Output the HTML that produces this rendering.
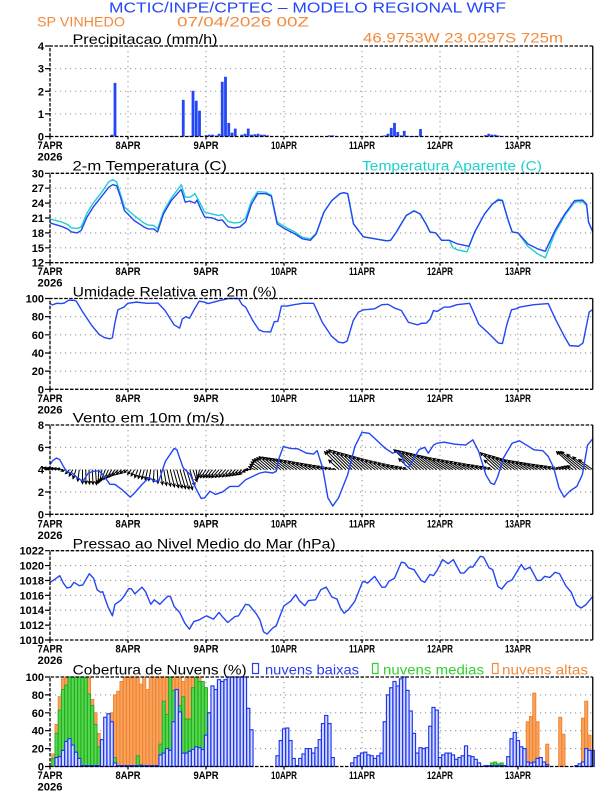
<!DOCTYPE html>
<html><head><meta charset="utf-8">
<style>
html,body{margin:0;padding:0;background:#fff;}
svg{display:block;}
text{font-family:"Liberation Sans",sans-serif;}
.tk{font-size:11px;font-weight:bold;fill:#000;text-anchor:end;}
.xl{font-size:11px;font-weight:bold;fill:#000;text-anchor:middle;}
.ti{font-size:14px;fill:#000;}
.g{stroke:#9a9a9a;stroke-width:1.1;stroke-dasharray:1.2 3.8;}
</style></head><body>
<svg id="s" width="612" height="792" viewBox="0 0 612 792" xmlns="http://www.w3.org/2000/svg">
<rect width="612" height="792" fill="#fff"/>
<g id="grid"></g>
<g id="data"></g>
<g id="frame"></g>

<!-- header -->
<text x="109" y="12.7" style="font-size:15px" fill="#2446f5" textLength="397" lengthAdjust="spacingAndGlyphs">MCTIC/INPE/CPTEC – MODELO REGIONAL WRF</text>
<text x="37" y="26.7" style="font-size:14px" fill="#f28a3c" textLength="88" lengthAdjust="spacingAndGlyphs">SP VINHEDO</text>
<text x="177" y="26.7" style="font-size:14px" fill="#f28a3c" textLength="132" lengthAdjust="spacingAndGlyphs">07/04/2026 00Z</text>
<text class="ti" x="72.5" y="44" textLength="145" lengthAdjust="spacingAndGlyphs">Precipitacao (mm/h)</text>
<text x="363" y="42.7" style="font-size:14px" fill="#f28a3c" textLength="200" lengthAdjust="spacingAndGlyphs">46.9753W 23.0297S 725m</text>

<text class="ti" x="72.5" y="170.7" textLength="154.5" lengthAdjust="spacingAndGlyphs">2-m Temperatura (C)</text>
<text x="362" y="170.7" style="font-size:14px" fill="#1fcfcf" textLength="180" lengthAdjust="spacingAndGlyphs">Temperatura Aparente (C)</text>
<text class="ti" x="72.7" y="296.7" textLength="204" lengthAdjust="spacingAndGlyphs">Umidade Relativa em 2m (%)</text>
<text class="ti" x="72.7" y="422.7" textLength="152" lengthAdjust="spacingAndGlyphs">Vento em 10m (m/s)</text>
<text class="ti" x="72.7" y="548.3" textLength="263" lengthAdjust="spacingAndGlyphs">Pressao ao Nivel Medio do Mar (hPa)</text>
<text class="ti" x="72.7" y="674.3" textLength="174" lengthAdjust="spacingAndGlyphs">Cobertura de Nuvens (%)</text>
<rect x="252.5" y="663.5" width="6" height="10" fill="none" stroke="#2a3cf0" stroke-width="1.2"/>
<text x="265" y="674.3" style="font-size:14px" fill="#2a3cf0" textLength="94" lengthAdjust="spacingAndGlyphs">nuvens baixas</text>
<rect x="372.5" y="663.5" width="5.5" height="10" fill="none" stroke="#2fd02f" stroke-width="1.2"/>
<text x="383" y="674.3" style="font-size:14px" fill="#2fd02f" textLength="101" lengthAdjust="spacingAndGlyphs">nuvens medias</text>
<rect x="492.5" y="663.5" width="5.5" height="10" fill="none" stroke="#f28a3c" stroke-width="1.2"/>
<text x="502" y="674.3" style="font-size:14px" fill="#f28a3c" textLength="86" lengthAdjust="spacingAndGlyphs">nuvens altas</text>

<!-- y tick labels -->
<text class="tk" x="44" y="140.5">0</text><text class="tk" x="44" y="117.9">1</text><text class="tk" x="44" y="95.3">2</text><text class="tk" x="44" y="72.6">3</text><text class="tk" x="44" y="50">4</text>
<text class="tk" x="44" y="266.7">12</text><text class="tk" x="44" y="251.8">15</text><text class="tk" x="44" y="236.9">18</text><text class="tk" x="44" y="222">21</text><text class="tk" x="44" y="207.1">24</text><text class="tk" x="44" y="192.2">27</text><text class="tk" x="44" y="177.3">30</text>
<text class="tk" x="44" y="393.3">0</text><text class="tk" x="44" y="375.1">20</text><text class="tk" x="44" y="357">40</text><text class="tk" x="44" y="338.8">60</text><text class="tk" x="44" y="320.7">80</text><text class="tk" x="44" y="302.5">100</text>
<text class="tk" x="44" y="518.3">0</text><text class="tk" x="44" y="496">2</text><text class="tk" x="44" y="473.7">4</text><text class="tk" x="44" y="451.3">6</text><text class="tk" x="44" y="429">8</text>
<text class="tk" x="44" y="644">1010</text><text class="tk" x="44" y="629.1">1012</text><text class="tk" x="44" y="614.2">1014</text><text class="tk" x="44" y="599.4">1016</text><text class="tk" x="44" y="584.5">1018</text><text class="tk" x="44" y="569.6">1020</text><text class="tk" x="44" y="554.7">1022</text>
<text class="tk" x="44" y="770.5">0</text><text class="tk" x="44" y="752.6">20</text><text class="tk" x="44" y="734.7">40</text><text class="tk" x="44" y="716.8">60</text><text class="tk" x="44" y="698.9">80</text><text class="tk" x="44" y="681">100</text>

<!-- x labels -->
<g>
<text class="xl" x="50" y="149" textLength="25" lengthAdjust="spacingAndGlyphs">7APR</text><text class="xl" x="50" y="160.5" textLength="25" lengthAdjust="spacingAndGlyphs">2026</text>
<text class="xl" x="128" y="149" textLength="25" lengthAdjust="spacingAndGlyphs">8APR</text><text class="xl" x="206" y="149" textLength="25" lengthAdjust="spacingAndGlyphs">9APR</text><text class="xl" x="284" y="149" textLength="26" lengthAdjust="spacingAndGlyphs">10APR</text><text class="xl" x="362" y="149" textLength="26" lengthAdjust="spacingAndGlyphs">11APR</text><text class="xl" x="440" y="149" textLength="26" lengthAdjust="spacingAndGlyphs">12APR</text><text class="xl" x="518" y="149" textLength="26" lengthAdjust="spacingAndGlyphs">13APR</text>

<text class="xl" x="50" y="275.2" textLength="25" lengthAdjust="spacingAndGlyphs">7APR</text><text class="xl" x="50" y="286.7" textLength="25" lengthAdjust="spacingAndGlyphs">2026</text>
<text class="xl" x="128" y="275.2" textLength="25" lengthAdjust="spacingAndGlyphs">8APR</text><text class="xl" x="206" y="275.2" textLength="25" lengthAdjust="spacingAndGlyphs">9APR</text><text class="xl" x="284" y="275.2" textLength="26" lengthAdjust="spacingAndGlyphs">10APR</text><text class="xl" x="362" y="275.2" textLength="26" lengthAdjust="spacingAndGlyphs">11APR</text><text class="xl" x="440" y="275.2" textLength="26" lengthAdjust="spacingAndGlyphs">12APR</text><text class="xl" x="518" y="275.2" textLength="26" lengthAdjust="spacingAndGlyphs">13APR</text>

<text class="xl" x="50" y="401.8" textLength="25" lengthAdjust="spacingAndGlyphs">7APR</text><text class="xl" x="50" y="413.3" textLength="25" lengthAdjust="spacingAndGlyphs">2026</text>
<text class="xl" x="128" y="401.8" textLength="25" lengthAdjust="spacingAndGlyphs">8APR</text><text class="xl" x="206" y="401.8" textLength="25" lengthAdjust="spacingAndGlyphs">9APR</text><text class="xl" x="284" y="401.8" textLength="26" lengthAdjust="spacingAndGlyphs">10APR</text><text class="xl" x="362" y="401.8" textLength="26" lengthAdjust="spacingAndGlyphs">11APR</text><text class="xl" x="440" y="401.8" textLength="26" lengthAdjust="spacingAndGlyphs">12APR</text><text class="xl" x="518" y="401.8" textLength="26" lengthAdjust="spacingAndGlyphs">13APR</text>

<text class="xl" x="50" y="527.5" textLength="25" lengthAdjust="spacingAndGlyphs">7APR</text><text class="xl" x="50" y="539" textLength="25" lengthAdjust="spacingAndGlyphs">2026</text>
<text class="xl" x="128" y="527.5" textLength="25" lengthAdjust="spacingAndGlyphs">8APR</text><text class="xl" x="206" y="527.5" textLength="25" lengthAdjust="spacingAndGlyphs">9APR</text><text class="xl" x="284" y="527.5" textLength="26" lengthAdjust="spacingAndGlyphs">10APR</text><text class="xl" x="362" y="527.5" textLength="26" lengthAdjust="spacingAndGlyphs">11APR</text><text class="xl" x="440" y="527.5" textLength="26" lengthAdjust="spacingAndGlyphs">12APR</text><text class="xl" x="518" y="527.5" textLength="26" lengthAdjust="spacingAndGlyphs">13APR</text>

<text class="xl" x="50" y="652.7" textLength="25" lengthAdjust="spacingAndGlyphs">7APR</text><text class="xl" x="50" y="664.2" textLength="25" lengthAdjust="spacingAndGlyphs">2026</text>
<text class="xl" x="128" y="652.7" textLength="25" lengthAdjust="spacingAndGlyphs">8APR</text><text class="xl" x="206" y="652.7" textLength="25" lengthAdjust="spacingAndGlyphs">9APR</text><text class="xl" x="284" y="652.7" textLength="26" lengthAdjust="spacingAndGlyphs">10APR</text><text class="xl" x="362" y="652.7" textLength="26" lengthAdjust="spacingAndGlyphs">11APR</text><text class="xl" x="440" y="652.7" textLength="26" lengthAdjust="spacingAndGlyphs">12APR</text><text class="xl" x="518" y="652.7" textLength="26" lengthAdjust="spacingAndGlyphs">13APR</text>

<text class="xl" x="50" y="779" textLength="25" lengthAdjust="spacingAndGlyphs">7APR</text><text class="xl" x="50" y="790.3" textLength="25" lengthAdjust="spacingAndGlyphs">2026</text>
<text class="xl" x="128" y="779" textLength="25" lengthAdjust="spacingAndGlyphs">8APR</text><text class="xl" x="206" y="779" textLength="25" lengthAdjust="spacingAndGlyphs">9APR</text><text class="xl" x="284" y="779" textLength="26" lengthAdjust="spacingAndGlyphs">10APR</text><text class="xl" x="362" y="779" textLength="26" lengthAdjust="spacingAndGlyphs">11APR</text><text class="xl" x="440" y="779" textLength="26" lengthAdjust="spacingAndGlyphs">12APR</text><text class="xl" x="518" y="779" textLength="26" lengthAdjust="spacingAndGlyphs">13APR</text>
</g>
</svg>
<script>
(function(){
const NS='http://www.w3.org/2000/svg';
const gGrid=document.getElementById('grid'),gData=document.getElementById('data'),gFrame=document.getElementById('frame');
function el(tag,a,par){const e=document.createElementNS(NS,tag);for(const k in a)e.setAttribute(k,a[k]);par.appendChild(e);return e;}
const X0=50,PX=3.25,X1=X0+167*PX;
function hx(h){return X0+h*PX;}
const P=[
 {top:46,bot:136.5,min:0,max:4,step:1},
 {top:173.3,bot:262.7,min:12,max:30,step:3},
 {top:298.5,bot:389.3,min:0,max:100,step:20},
 {top:425,bot:514.3,min:0,max:8,step:2},
 {top:550.7,bot:640,min:1010,max:1022,step:2},
 {top:677,bot:766.5,min:0,max:100,step:20}];
function vy(p,v){return p.bot-(v-p.min)/(p.max-p.min)*(p.bot-p.top);}
function f(n){return n.toFixed(2);}
function interp(pts,h){if(h<=pts[0][0])return pts[0][1];for(let i=1;i<pts.length;i++){if(h<=pts[i][0]){const a=pts[i-1],b=pts[i];return a[1]+(b[1]-a[1])*(h-a[0])/(b[0]-a[0]);}}return pts[pts.length-1][1];}

P.forEach(p=>{
  for(let v=p.min+p.step;v<p.max-1e-6;v+=p.step){const y=vy(p,v);el('line',{x1:X0,x2:X1,y1:f(y),y2:f(y),'class':'g'},gGrid);}
  for(let d=1;d<=6;d++){const x=X0+d*78;el('line',{x1:x,x2:x,y1:p.top,y2:p.bot,'class':'g'},gGrid);}
  el('path',{d:`M${X0},${p.bot}V${p.top}H${f(X1)}M${X0},${p.bot}H${f(X1)}`,fill:'none',stroke:'#000','stroke-width':1.3,'stroke-dasharray':'3.5 1.5'},gFrame);
  el('line',{x1:f(X1),x2:f(X1),y1:p.top,y2:p.bot,stroke:'#000','stroke-width':1.3},gFrame);
  let t='';
  for(let v=p.min;v<=p.max+1e-6;v+=p.step){const y=vy(p,v);t+=`M45,${f(y)}H${X0}`;}
  for(let d=0;d<=6;d++){const x=X0+d*78;t+=`M${x},${p.bot}V${p.bot+3}`;}
  el('path',{d:t,stroke:'#000','stroke-width':1.2,fill:'none'},gFrame);
});

function line(p,pts,color,w){
  el('polyline',{points:pts.map(q=>f(hx(q[0]))+','+f(vy(p,q[1]))).join(' '),fill:'none',stroke:color,'stroke-width':w,'stroke-linejoin':'round'},gData);
}
const BLUE='#2346f6';

const PR={19:0.08,20:2.37,37:0.02,38:0.02,39:0.02,41:1.62,43:0.03,44:2.02,45:1.58,46:1.14,48:0.06,49:0.08,50:0.08,51:0.04,52:0.12,53:2.42,54:2.64,55:0.6,56:0.17,57:0.35,59:0.08,60:0.12,61:0.35,62:0.08,63:0.1,64:0.12,65:0.08,66:0.08,67:0.05,86:0.05,87:0.05,103:0.05,104:0.12,105:0.38,106:0.6,107:0.2,108:0.05,109:0.25,110:0.03,111:0.02,112:0.02,114:0.33,134:0.06,135:0.12,136:0.08,137:0.08,138:0.04,162:0.03};
for(const k in PR){const h=+k,v=PR[k];const y=vy(P[0],v);el('rect',{x:f(hx(h)-1.4),y:f(y),width:2.8,height:f(Math.max(0.8,P[0].bot-y)),fill:BLUE},gData);}

const TA=[[0,20.8],[3.6,20.2],[5.4,19.7],[6.6,19.0],[8.4,18.9],[9.6,19.2],[11.4,22],[13.3,24],[15.7,26],[18.1,28.3],[19.3,28.7],[20.5,28.3],[21.7,25.8],[22.9,23.2],[25.9,21.5],[28.9,20],[30.1,19.6],[31.9,19.5],[33.1,18.8],[34.9,22.3],[37.3,25],[40.4,27.7],[41.6,25.2],[43.1,25.2],[44.6,25.9],[46.4,23.7],[47.6,22.2],[50,21.8],[51.8,21.5],[53,21.7],[54.8,20.3],[56.6,20.0],[58.4,20.1],[60.2,21],[62,24.5],[63.9,26.3],[66.3,26.2],[68.1,25.6],[69.9,20.2],[72.3,19.2],[75.3,18.2],[77.7,17.1],[80.1,16.8],[81.9,17.9],[84.3,22.2],[86.7,24.5],[89.2,25.9],[90.4,26.1],[91.6,25.9],[93.4,19.8],[96.4,17.2],[100,16.8],[103.6,16.4],[104.8,16.5],[106.6,18.2],[109.6,21.5],[112,22.5],[113.9,21.8],[115.7,19.8],[116.9,18.2],[118.7,18],[120.5,16.5],[122.9,16.5],[124,15.0],[125.3,14.6],[128.3,14.2],[130.7,18.2],[133.7,21.8],[136.1,23.8],[137.9,24.8],[139.2,24.6],[141,20.5],[142.2,18.2],[144,18.0],[147,15.3],[150,13.8],[152.4,13.0],[155.4,18.0],[158.4,21.5],[161.4,24.2],[163.9,24.3],[165.1,23.5],[165.7,20.2],[167,18.2]];
const TT=[[0,20],[3.6,19.3],[5.4,18.8],[6.6,18.2],[8.4,18],[9.6,18.5],[11.4,21.2],[13.3,23.2],[15.7,25.2],[18.1,27.2],[19.3,27.7],[20.5,27.5],[21.7,25.2],[22.9,22.5],[25.9,20.5],[28.9,19.2],[30.1,18.8],[31.9,18.8],[33.1,18.2],[34.9,21.8],[37.3,24.5],[40,26.5],[40.4,26.7],[41.6,24.2],[43.1,24.4],[44.6,24],[45.2,24.6],[46.4,22.8],[47.6,21.2],[50,21],[51.8,20.5],[53,20.6],[54.8,19.2],[56.6,19],[58.4,19.2],[60.2,20.2],[62,23.8],[63.9,25.9],[66.3,25.9],[68.1,25.4],[69.9,19.8],[72.3,18.8],[75.3,17.8],[77.7,16.8],[80.1,16.5],[81.9,17.8],[84.3,22.2],[86.7,24.5],[89.2,25.9],[90.4,26.1],[91.6,25.9],[93.4,19.8],[96.4,17.2],[100,16.8],[103.6,16.4],[104.8,16.5],[106.6,18.2],[109.6,21.5],[112,22.4],[113.9,21.8],[115.7,19.8],[116.9,18.2],[118.7,18],[120.5,16.5],[122.9,16.5],[125.3,15.8],[128.9,15.3],[130.7,18.2],[133.7,21.8],[136.1,23.8],[137.9,24.6],[139.2,24.5],[141,20.5],[142.2,18.2],[144,18],[147,15.8],[150,14.8],[152.4,14.3],[155.4,18.5],[158.4,21.8],[161.4,24.5],[163.9,24.6],[165.1,23.8],[165.7,20.2],[167,18.2]];
line(P[1],TA,'#1fcfcf',1.4);
line(P[1],TT,BLUE,1.4);

const RH=[[0,94.4],[0.8,93],[2,94.7],[3.5,94.4],[4.4,95],[5.7,98],[7.4,98],[8.1,97],[10.1,85],[12.9,70],[15.1,60.5],[16.7,57],[18.4,55.6],[19.2,56.8],[20,73.7],[20.9,87.6],[22.8,90.6],[23.9,94.7],[26.6,96],[29.9,94.7],[33.2,95],[35.4,86.8],[38.2,71],[39.9,67.3],[40.7,77.4],[41.8,80],[42.9,78.2],[44.5,88.7],[45.9,97],[47.3,96.2],[48.7,94.4],[51.4,97],[55,100],[58,100],[59.1,93.2],[60.2,90.6],[62.4,75.6],[64.3,65.4],[65.7,63.5],[67.9,63.2],[69,74.4],[70.1,74.8],[71.2,91.7],[72.9,91.7],[75.1,93.2],[77.8,94.7],[81.1,94.7],[83.8,73.7],[86.6,58.6],[88.8,51.9],[90.3,51.1],[91.4,53],[93.3,75.6],[94.9,85],[96.5,87.6],[99.9,88.7],[102.1,93.2],[104,93.6],[106,89.5],[108.1,86.8],[110.3,73.7],[113.1,71],[114.2,72.6],[115.8,72.9],[117,77.4],[118,86.8],[119.1,85.7],[121.3,90.6],[123,90.6],[125.2,93.2],[129.1,94.7],[130.1,86.8],[131.9,71.8],[134.5,63.2],[137.9,51.1],[139.2,50.4],[140.6,71.8],[142,87.6],[143.4,88.7],[144.5,90.6],[148.9,93.2],[153.3,94.4],[155.5,77.4],[158.2,58.6],[159.9,48.1],[162.6,47.4],[164,51.1],[165.9,85],[167,88]];
line(P[2],RH,BLUE,1.4);

const W=[[0,-7,-2],[4,-6,-1],[6,-4,4],[8,-3,9],[10,0,14],[14,1,15],[17,-4,11],[21,-6,6],[24,-4,3],[27,-3,8],[31,-2,11],[34,2,15],[38,5,18],[42,6,20],[44,4,12],[47,-5,8],[52,-7,8],[56,-6,7],[60,-6,5],[63,-6,-3],[66,-12,-10],[69,-15,-13],[75,-14,-10],[82,-8,-5],[88,-3,-1],[90,-18,-18],[92,-20,-20],[100,-14,-11],[106,-8,-5],[110,-4,-2],[112,-20,-20],[114,-22,-19],[122,-18,-12],[130,-10,-6],[136,-4,-2],[138,-18,-17],[144,-14,-10],[150,-10,-6],[157,-4,-2],[161,-6,-4],[162,-20,-18],[164,-22,-18],[167,-14,-10]];
const WX=W.map(a=>[a[0],a[1]]),WY=W.map(a=>[a[0],a[2]]);
let ad='';const by0=vy(P[3],4);const ca=Math.cos(0.45),sa=Math.sin(0.45);
for(let h=0;h<=167;h++){
  const dx=interp(WX,h),dy=interp(WY,h);const x0=hx(h),y0=by0,x1=x0+dx,y1=y0+dy;
  const L=Math.hypot(dx,dy);if(L<0.5)continue;
  const bx=-dx/L,byy=-dy/L;const hs=Math.min(3.5,L*0.5);
  const ax1=x1+hs*(bx*ca-byy*sa),ay1=y1+hs*(bx*sa+byy*ca);
  const ax2=x1+hs*(bx*ca+byy*sa),ay2=y1+hs*(-bx*sa+byy*ca);
  ad+=`M${f(x0)},${f(y0)}L${f(x1)},${f(y1)}M${f(ax1)},${f(ay1)}L${f(x1)},${f(y1)}L${f(ax2)},${f(ay2)}`;
}
el('path',{d:ad,fill:'none',stroke:'#000','stroke-width':1},gData);
const WS=[[0,4.44],[0.8,4.8],[2,5.04],[3,4.9],[4.1,4.3],[5.2,3.8],[6.8,3.7],[8.5,3.26],[10.1,2.96],[11.8,3.7],[13.4,3.85],[15.1,3.9],[16.7,3.4],[18.4,2.7],[20,2.67],[22.2,2.2],[24.7,1.54],[26.1,1.93],[28.3,2.67],[30.5,3.3],[32.1,2.96],[33.5,3.0],[35.5,4.74],[38.2,5.9],[39,5.8],[41,4.15],[43.2,3.55],[44.8,2.37],[46.5,1.42],[47.6,1.48],[49.2,2.07],[50.9,1.78],[53.1,2.0],[55.3,2.5],[58,2.5],[60.2,3.1],[62.4,3.4],[64.6,3.7],[66.3,3.8],[68.5,3.7],[69.6,3.85],[70.5,5.04],[71.8,6.07],[74,5.9],[76.2,5.87],[78.9,5.48],[81.1,5.4],[82.2,5.7],[83.9,4.15],[85.5,1.48],[87,0.74],[88.8,1.48],[91.6,3.55],[93.8,6.07],[96,7.35],[98.2,7.26],[100.4,6.67],[103.2,5.9],[105.4,5.48],[107,5.6],[108.1,5.3],[109.2,4.44],[110.3,4.2],[112,5.04],[113.6,5.8],[115.3,6.0],[116.4,5.48],[118,6.2],[119.1,6.37],[121.3,6.46],[124.6,6.28],[127.9,6.2],[130.1,6.67],[131.9,5.63],[134.1,3.55],[135.6,2.8],[136.7,2.67],[137.8,3.4],[139.5,5.04],[142.2,6.37],[144.5,6.58],[146.6,6.2],[148.9,5.78],[151.6,5.7],[153.3,5.19],[155,4.15],[156.6,2.37],[158.2,1.54],[159.9,2.07],[162.1,2.5],[163.8,3.55],[165.4,6.2],[167,6.76]];
line(P[3],WS,BLUE,1.4);

const PS=[[0,1017.75],[1.3,1018.1],[3,1018.65],[4.1,1017.65],[5.2,1017],[6.3,1017.1],[7.4,1017.75],[9,1017.3],[10.1,1017.4],[12.1,1018.9],[13.4,1018.3],[14.5,1016.75],[15.6,1016.4],[16.2,1016.5],[17.8,1014.5],[19.2,1013.25],[20,1014.8],[21.7,1015.3],[22.8,1015.9],[24.2,1016.9],[25,1016.9],[26.1,1016.2],[28.3,1017.1],[29.4,1016.5],[31,1014.8],[32.1,1015.4],[33.8,1014.8],[34.9,1015.3],[36.3,1015.9],[37.1,1015.8],[38.2,1014.5],[39.9,1013.7],[41.5,1012.25],[42.9,1011.45],[44.3,1012.5],[45.9,1012.7],[48.1,1013.25],[50.3,1012.8],[52,1013.7],[53.1,1013.1],[54.7,1012.35],[56.9,1013.15],[58,1013.25],[60.2,1014.8],[61.3,1014.7],[63.5,1013.5],[64.6,1012.7],[65.7,1011.1],[66.8,1010.8],[68.5,1011.6],[69.6,1011.9],[70.9,1013.4],[72,1014.6],[74,1015.2],[75.6,1016.1],[76.7,1015.3],[78.4,1014.6],[79.5,1015.3],[81.7,1015.4],[83.3,1016.75],[85,1017.1],[86.7,1015.8],[88.3,1015.5],[89.4,1014.3],[90.5,1013.6],[91.8,1014.05],[93.8,1015.2],[96,1017.65],[96.5,1017.9],[97.7,1017.65],[99.9,1018.55],[102.1,1017.1],[103.2,1017.1],[104.3,1017.9],[106,1018.3],[108.1,1020.45],[109.2,1020.35],[110.3,1019.7],[112,1019.45],[114.2,1018],[115.3,1017.75],[116.9,1018.8],[118,1018.65],[119.1,1019.35],[120.8,1020.8],[122.5,1020.25],[124.1,1020.8],[126.3,1019],[127.4,1019],[129.1,1019.8],[130.1,1019.8],[132.4,1021.25],[133.4,1021.15],[135.1,1019.7],[136.2,1019.45],[137.8,1017.2],[139,1016.85],[140.6,1017.75],[142.2,1018.1],[145,1020.15],[146.1,1019.45],[147.7,1019.8],[149.9,1018],[151,1018],[152.2,1018.55],[153.8,1018.4],[155.4,1019.1],[156.8,1018.9],[158.7,1017.3],[160.4,1016.4],[162,1014.7],[163.4,1014.3],[164.8,1014.7],[167,1015.85]];
line(P[4],PS,BLUE,1.4);

const HI=[[0,0],[0.5,14],[1,14],[2,47],[3,78],[4,98],[5,100],[12,100],[13,75],[14,60],[15,37],[16,28],[17,18],[18,12],[19,60],[20,80],[21,84],[22,95],[23,100],[27,100],[28,92],[29,100],[30,86],[31,100],[40,100],[41,95],[42,100],[46,100],[47,90],[48,80],[49,60],[50,45],[51,62],[52,40],[53,20],[54,0],[146,0],[147,50],[148,56],[149,82],[150,50],[151,0],[152,0],[153,25],[154,0],[156,0],[157,55],[158,36],[159,0],[163,0],[164,54],[165,73],[166,35],[167,0]];
const MI=[[0,0],[1,9],[2,37],[3,63],[4,86],[5,91],[6,100],[11,100],[12,81],[13,68],[14,47],[15,22],[16,5],[17,0],[19,0],[19.5,8],[20,10],[21,0],[26,0],[27,12],[28,2],[29,0],[33,0],[34,25],[35,73],[36,58],[37,100],[38,85],[39,60],[40,68],[41,78],[42,53],[43,53],[44,88],[45,100],[46,95],[47,95],[48,88],[49,60],[50,25],[51,20],[52,5],[55,3],[56,0],[103,0],[104,3],[105,5],[106,12],[107,4],[108,5],[109,4],[110,6],[111,2],[112,5],[113,0],[135,0],[136,4],[137,5],[138,3],[139,4],[140,0]];
const LO=[[0,0],[1,0],[2,10],[3,11],[4,18],[5,28],[6,31],[7,24],[8,16],[9,9],[10,1],[15,1],[16,30],[17,55],[18,59],[19,50],[20,4],[21,1],[33,1],[34,13],[35,15],[36,20],[37,18],[38,50],[39,86],[40,61],[41,15],[42,15],[43,17],[44,19],[45,22],[46,21],[47,19],[48,35],[49,60],[50,90],[51,86],[52,97],[53,95],[54,97],[55,100],[60,100],[61,65],[62,41],[63,0],[69,0],[70,12],[71,29],[72,42],[73,43],[74,29],[75,9],[76,1],[77,9],[78,14],[79,20],[80,20],[81,15],[82,21],[83,30],[84,48],[85,57],[86,48],[87,10],[88,0],[92,0],[93,4],[94,10],[95,12],[96,15],[97,16],[98,13],[99,12],[100,9],[101,12],[102,15],[103,50],[104,80],[105,88],[106,95],[107,90],[108,98],[109,100],[110,85],[111,62],[112,37],[113,15],[114,21],[115,20],[116,21],[117,45],[118,66],[119,63],[120,10],[121,13],[122,15],[123,15],[124,13],[125,8],[126,10],[127,12],[128,23],[129,12],[130,11],[131,8],[132,4],[133,0],[134,1],[140,1],[141,11],[142,31],[143,38],[144,29],[145,22],[146,20],[147,5],[148,4],[149,5],[150,9],[151,10],[152,5],[153,2],[154,0],[161,0],[162,1],[164,5],[165,20],[166,18],[167,18]];
function bars(pts,fill,stroke,sw){
  const p=P[5];
  for(let h=0;h<=167;h++){const v=interp(pts,h);if(v<0.8)continue;const y=vy(p,v);
    el('rect',{x:f(hx(h)-1.55),y:f(y),width:3.1,height:f(p.bot-y),fill:fill,stroke:stroke,'stroke-width':sw},gData);}
}
bars(HI,'#f7a35e','#f0802a',0.9);
bars(MI,'#55d64c','#1ea81e',0.9);
bars(LO,'#d4dbff','#1f35ee',1.15);
})();
</script>
</body></html>
